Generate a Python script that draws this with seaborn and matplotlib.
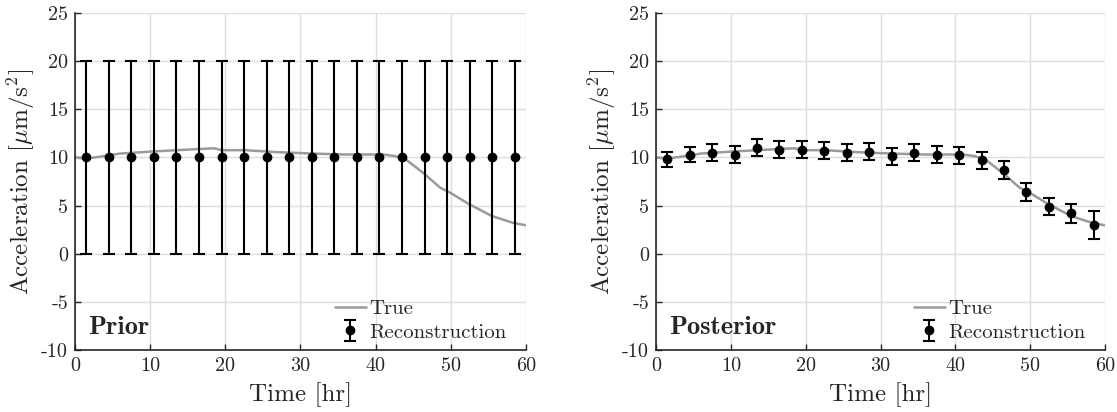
import numpy as np
import matplotlib
matplotlib.use('Agg')
import matplotlib.pyplot as plt
import seaborn as sns

# true acceleration curve
t_true = [0, 1.4, 4, 6, 10, 13.5, 18.5, 19.5, 22.7, 26.8, 31.5, 36, 41, 42.5, 44,
          46.3, 48.6, 50, 52.3, 55.5, 58.3, 60]
a_true = [10.0, 9.86, 10.15, 10.4, 10.6, 10.75, 10.95, 10.75, 10.75, 10.55, 10.4, 10.3,
          10.3, 10.15, 9.8, 8.4, 6.85, 6.3, 5.2, 3.9, 3.2, 2.95]

# reconstruction times
t_rec = [1.5, 4.5, 7.5, 10.5, 13.5, 16.5, 19.5, 22.5, 25.5, 28.5,
         31.5, 34.5, 37.5, 40.5, 43.5, 46.5, 49.5, 52.5, 55.5, 58.5]

prior_mean = [10] * 20
prior_err = [10] * 20

post_mean = [9.8, 10.3, 10.5, 10.3, 11.0, 10.8, 10.8, 10.7, 10.5, 10.6,
             10.1, 10.5, 10.3, 10.2, 9.7, 8.7, 6.4, 4.9, 4.2, 3.0]
post_err = [0.75, 0.8, 0.85, 0.85, 0.9, 0.9, 0.9, 0.9, 0.9, 0.9,
            0.9, 0.9, 0.9, 0.9, 0.9, 0.9, 0.9, 0.9, 1.0, 1.45]

sns.set_style('ticks')
plt.rcParams['font.family'] = ['cmr10', 'DejaVu Serif']
plt.rcParams['mathtext.fontset'] = 'cm'
plt.rcParams['axes.unicode_minus'] = False
plt.rcParams['axes.formatter.use_mathtext'] = False

fig = plt.figure(figsize=(11.17, 4.12), dpi=100)
ax1 = fig.add_axes([0.0671, 0.1505, 0.4038, 0.818])
ax2 = fig.add_axes([0.5873, 0.1505, 0.4020, 0.818])

panels = [(ax1, prior_mean, prior_err, 'Prior'),
          (ax2, post_mean, post_err, 'Posterior')]

for ax, mean, err, name in panels:
    sns.lineplot(x=t_true, y=a_true, ax=ax, color='#9a9a9a', lw=1.8, label='True',
                 sort=False, zorder=2)
    ax.errorbar(t_rec, mean, yerr=err, fmt='o', color='black', ms=6,
                elinewidth=1.5, capsize=4.5, capthick=1.5, label='Reconstruction',
                zorder=3)
    ax.set_xlim(0, 60)
    ax.set_ylim(-10, 25)
    ax.set_xticks(range(0, 61, 10))
    ax.set_yticks(range(-10, 26, 5))
    ax.grid(True, color='#dddddd', lw=1)
    ax.set_axisbelow(True)
    for s in ['top', 'right']:
        ax.spines[s].set_visible(False)
    for s in ['left', 'bottom']:
        ax.spines[s].set_linewidth(1.2)
    ax.tick_params(direction='in', length=4, width=1, labelsize=14.5, pad=5)
    ax.set_xlabel('Time [hr]', fontsize=18, labelpad=5)
    ax.set_ylabel(r'Acceleration [$\mu$m/s$^2$]', fontsize=18, labelpad=3)
    ax.text(0.029, 0.047, name, transform=ax.transAxes, fontsize=19,
            family='cmb10', va='baseline')
    leg = ax.legend(loc='lower right', frameon=False, fontsize=15,
                    handlelength=1.5, handletextpad=0.15, labelspacing=0.25,
                    borderaxespad=0.0, bbox_to_anchor=(0.975, 0.0))

fig.savefig('out.png', dpi=100)
